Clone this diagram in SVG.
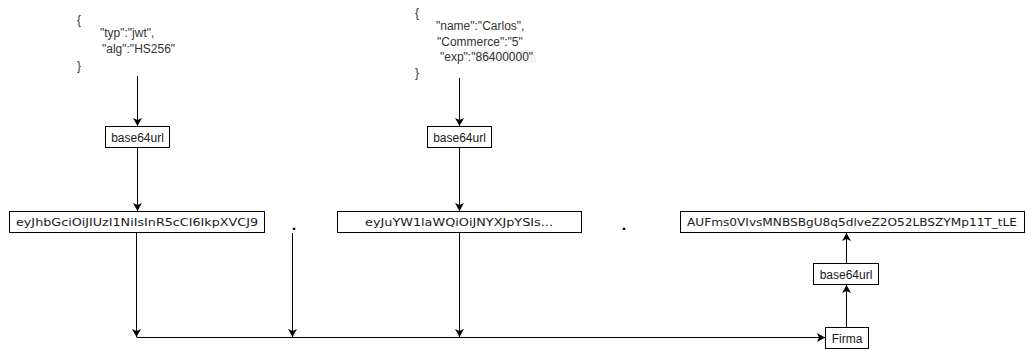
<svg xmlns="http://www.w3.org/2000/svg" width="1026" height="349" viewBox="0 0 1026 349">
  <style>
    .box { fill: #ffffff; stroke: #000000; stroke-width: 1; }
    .json { font-family: "Liberation Sans", Arial, sans-serif; font-size: 12px; fill: #333333; }
    .lbl { font-family: "Liberation Sans", Arial, sans-serif; font-size: 12px; fill: #1a1a1a; text-anchor: middle; }
    .tok { font-family: "DejaVu Sans", Verdana, sans-serif; font-size: 11px; fill: #1a1a1a; text-anchor: middle; }
    .dot { font-family: "DejaVu Sans", Verdana, sans-serif; font-size: 13px; font-weight: bold; fill: #000000; text-anchor: middle; }
    .edge { fill: none; stroke: #000000; stroke-width: 1; }
  </style>
  <defs>
    <marker id="arrow" viewBox="0 0 10 10" refX="10" refY="5" markerWidth="8" markerHeight="9" markerUnits="userSpaceOnUse" orient="auto" preserveAspectRatio="none">
      <path d="M0,0 L10,5 L0,10 L2.5,5 Z" fill="#000000"/>
    </marker>
  </defs>
  <rect width="1026" height="349" fill="#ffffff"/>

  <!-- header JSON -->
  <g id="header-json">
    <text class="json" x="77" y="24">{</text>
    <text class="json" x="100" y="37">"typ":"jwt",</text>
    <text class="json" x="102" y="53">"alg":"HS256"</text>
    <text class="json" x="77" y="70">}</text>
  </g>

  <!-- payload JSON -->
  <g id="payload-json">
    <text class="json" x="415" y="17">{</text>
    <text class="json" x="436" y="30">"name":"Carlos",</text>
    <text class="json" x="437" y="46">"Commerce":"5"</text>
    <rect x="473" y="50" width="63" height="13" fill="#f4f4f4"/>
    <text class="json" x="440" y="61">"exp":"86400000"</text>
    <text class="json" x="415" y="77">}</text>
  </g>

  <g id="enc-header">
    <rect class="box" x="105.5" y="126.5" width="64" height="21"/>
    <text class="lbl" x="137.5" y="141.5">base64url</text>
  </g>

  <g id="enc-payload">
    <rect class="box" x="427.5" y="126.5" width="64" height="21"/>
    <text class="lbl" x="459.5" y="141.5">base64url</text>
  </g>

  <g id="token-header">
    <rect class="box" x="9.5" y="211.5" width="255" height="21"/>
    <text class="tok" x="137" y="226" textLength="242" lengthAdjust="spacingAndGlyphs">eyJhbGciOiJIUzI1NiIsInR5cCI6IkpXVCJ9</text>
  </g>

  <g id="dot-1">
    <text class="dot" x="294" y="230">.</text>
  </g>

  <g id="token-payload">
    <rect class="box" x="337.5" y="211.5" width="244" height="21"/>
    <text class="tok" x="459" y="226" textLength="188" lengthAdjust="spacingAndGlyphs">eyJuYW1laWQiOiJNYXJpYSIs...</text>
  </g>

  <g id="dot-2">
    <text class="dot" x="624" y="230">.</text>
  </g>

  <g id="token-signature">
    <rect class="box" x="680.5" y="211.5" width="344" height="21"/>
    <text class="tok" x="852" y="226" textLength="330" lengthAdjust="spacingAndGlyphs">AUFms0VIvsMNBSBgU8q5dlveZ2O52LBSZYMp11T_tLE</text>
  </g>

  <g id="enc-signature">
    <rect class="box" x="813.5" y="263.5" width="65" height="21"/>
    <text class="lbl" x="846" y="278.5">base64url</text>
  </g>

  <g id="firma">
    <rect class="box" x="825.5" y="327.5" width="43" height="21"/>
    <text class="lbl" x="847" y="342.5">Firma</text>
  </g>

  <g id="connectors">
    <path class="edge" d="M137.5,76 L137.5,126" marker-end="url(#arrow)"/>
    <path class="edge" d="M459.5,78 L459.5,126" marker-end="url(#arrow)"/>
    <path class="edge" d="M137.5,148 L137.5,211" marker-end="url(#arrow)"/>
    <path class="edge" d="M459.5,148 L459.5,211" marker-end="url(#arrow)"/>
    <path class="edge" d="M136.5,233 L136.5,337" marker-end="url(#arrow)"/>
    <path class="edge" d="M292.5,233 L292.5,337" marker-end="url(#arrow)"/>
    <path class="edge" d="M459.5,233 L459.5,337" marker-end="url(#arrow)"/>
    <path class="edge" d="M136.5,337.5 L825,337.5" marker-end="url(#arrow)"/>
    <path class="edge" d="M846.5,327 L846.5,285" marker-end="url(#arrow)"/>
    <path class="edge" d="M846.5,263 L846.5,233" marker-end="url(#arrow)"/>
  </g>
</svg>
